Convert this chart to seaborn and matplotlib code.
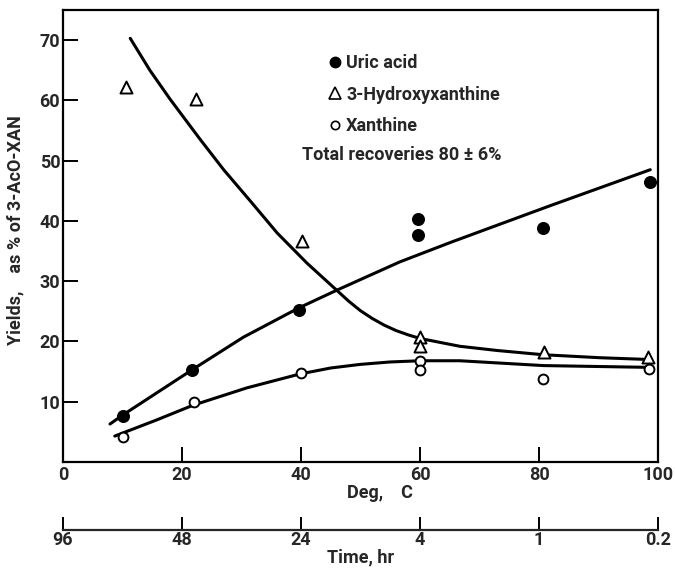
import matplotlib
matplotlib.use("Agg")
import matplotlib.pyplot as plt
import seaborn as sns
from matplotlib.lines import Line2D

# ---- data ----
temp_uric = [10, 21.7, 39.7, 59.7, 59.7, 80.7, 98.7]
uric_acid = [7.7, 15.3, 25.3, 40.3, 37.7, 38.8, 46.5]

temp_hx = [10.6, 22.4, 40.2, 60, 60, 80.8, 98.3]
hydroxyxanthine = [62.3, 60.3, 36.7, 20.7, 19.3, 18.2, 17.5]

temp_xan = [10, 22, 40, 60, 60, 80.7, 98.5]
xanthine = [4.2, 10.0, 14.7, 16.8, 15.3, 13.8, 15.5]

# fitted curves (traced)
curve_uric_x = [7.9, 9.9, 15.8, 21.7, 30.3, 39.7, 46, 56.6, 65.3, 81.8, 98.7]
curve_uric_y = [6.3, 7.7, 11.5, 15.3, 20.7, 25.6, 28.5, 33.2, 36.5, 42.5, 48.5]

curve_hx_x = [11.3, 14.6, 18, 23, 27, 31.4, 36, 41, 46, 48, 50, 52, 54, 56, 58, 60, 66.7, 73, 80.7, 90.3, 98.7]
curve_hx_y = [70.3, 65.0, 60.2, 53.6, 48.5, 43.4, 38.0, 33.0, 28.5, 26.7, 25.1, 23.8, 22.7, 21.8, 21.1, 20.5, 19.2, 18.5, 17.8, 17.3, 17.0]

curve_xan_x = [8.7, 15.8, 21.8, 30.9, 39.8, 45, 50, 55, 60, 66.7, 80.7, 98.7]
curve_xan_y = [4.3, 7.0, 9.4, 12.3, 14.6, 15.6, 16.2, 16.6, 16.8, 16.8, 16.0, 15.7]

deg_ticks = [0, 20, 40, 60, 80, 100]
time_labels = ["96", "48", "24", "4", "1", "0.2"]
y_ticks = [10, 20, 30, 40, 50, 60, 70]

# ---- style ----
sns.set_style("ticks")
plt.rcParams['font.family'] = ['Roboto', 'DejaVu Sans']
plt.rcParams['font.weight'] = 'bold'
plt.rcParams['axes.labelweight'] = 'bold'
FS = 13
FW = 'bold'

fig = plt.figure(figsize=(6.75, 5.69), dpi=100)
ax = fig.add_axes([63/675, 1-462/569, 595/675, 452/569])

lw = 2.2
for cx, cy in [(curve_uric_x, curve_uric_y), (curve_hx_x, curve_hx_y), (curve_xan_x, curve_xan_y)]:
    sns.lineplot(x=cx, y=cy, sort=False, estimator=None, color="black", lw=lw, ax=ax, zorder=2)

sns.scatterplot(x=temp_uric, y=uric_acid, marker="o", s=70, color="black",
                edgecolor="black", linewidth=1, ax=ax, zorder=3)
sns.scatterplot(x=temp_hx, y=hydroxyxanthine, marker="^", s=75, facecolor="white",
                edgecolor="black", linewidth=1.4, ax=ax, zorder=3)
sns.scatterplot(x=temp_xan, y=xanthine, marker="o", s=50, facecolor="white",
                edgecolor="black", linewidth=1.4, ax=ax, zorder=3)

ax.set_xlim(0, 100)
ax.set_ylim(0, 75)
ax.set_xticks(deg_ticks)
ax.set_xticklabels([str(t) for t in deg_ticks], fontsize=FS, fontweight=FW)
ax.set_yticks(y_ticks)
ax.set_yticklabels([str(t) for t in y_ticks], fontsize=FS, fontweight=FW)
ax.tick_params(axis="both", direction="in", length=10.5, width=1.4, color="black")
ax.tick_params(axis="x", pad=3)
ax.tick_params(axis="y", pad=2)
for sp in ax.spines.values():
    sp.set_visible(True)
    sp.set_linewidth(1.6)
    sp.set_color("black")

ax.set_xlabel("Deg,    C", fontsize=FS, fontweight=FW)
ax.xaxis.set_label_coords((380-63)/595, -(493-462)/452)
ax.xaxis.label.set_va("center")
ax.set_ylabel("Yields,    as % of 3-AcO-XAN", fontsize=FS, fontweight=FW)
ax.yaxis.set_label_coords(-(63-15)/595, 0.5 + (236-230)/452)
ax.yaxis.label.set_va("center")

# legend
handles = [
    Line2D([], [], ls="none", marker="o", ms=7.5, mfc="black", mec="black"),
    Line2D([], [], ls="none", marker="^", ms=8, mfc="white", mec="black", mew=1.2),
    Line2D([], [], ls="none", marker="o", ms=6, mfc="white", mec="black", mew=1.2),
]
leg = ax.legend(handles, ["Uric acid", "3-Hydroxyxanthine", "Xanthine"],
                loc="upper left", bbox_to_anchor=(330/675, 1-54/569),
                bbox_transform=fig.transFigure, frameon=False,
                prop={'size': FS, 'weight': FW},
                handlelength=0.6, handletextpad=0.3, labelspacing=0.75,
                borderpad=0, borderaxespad=0)
ax.text((302-63)/595, (462-155)/452, "Total recoveries 80 ± 6%", transform=ax.transAxes,
        fontsize=FS, fontweight=FW, va="center", ha="left")

# secondary time axis
sec = ax.secondary_xaxis(-(530-462)/452)
sec.set_xticks(deg_ticks)
sec.set_xticklabels(time_labels, fontsize=FS, fontweight=FW)
sec.tick_params(direction="in", length=9.5, width=1.4, pad=1, color="black")
sec.spines["bottom"].set_linewidth(1.6)
sec.set_xlabel("Time, hr", fontsize=FS, fontweight=FW, labelpad=-1)

fig.savefig("out.png", dpi=100)
